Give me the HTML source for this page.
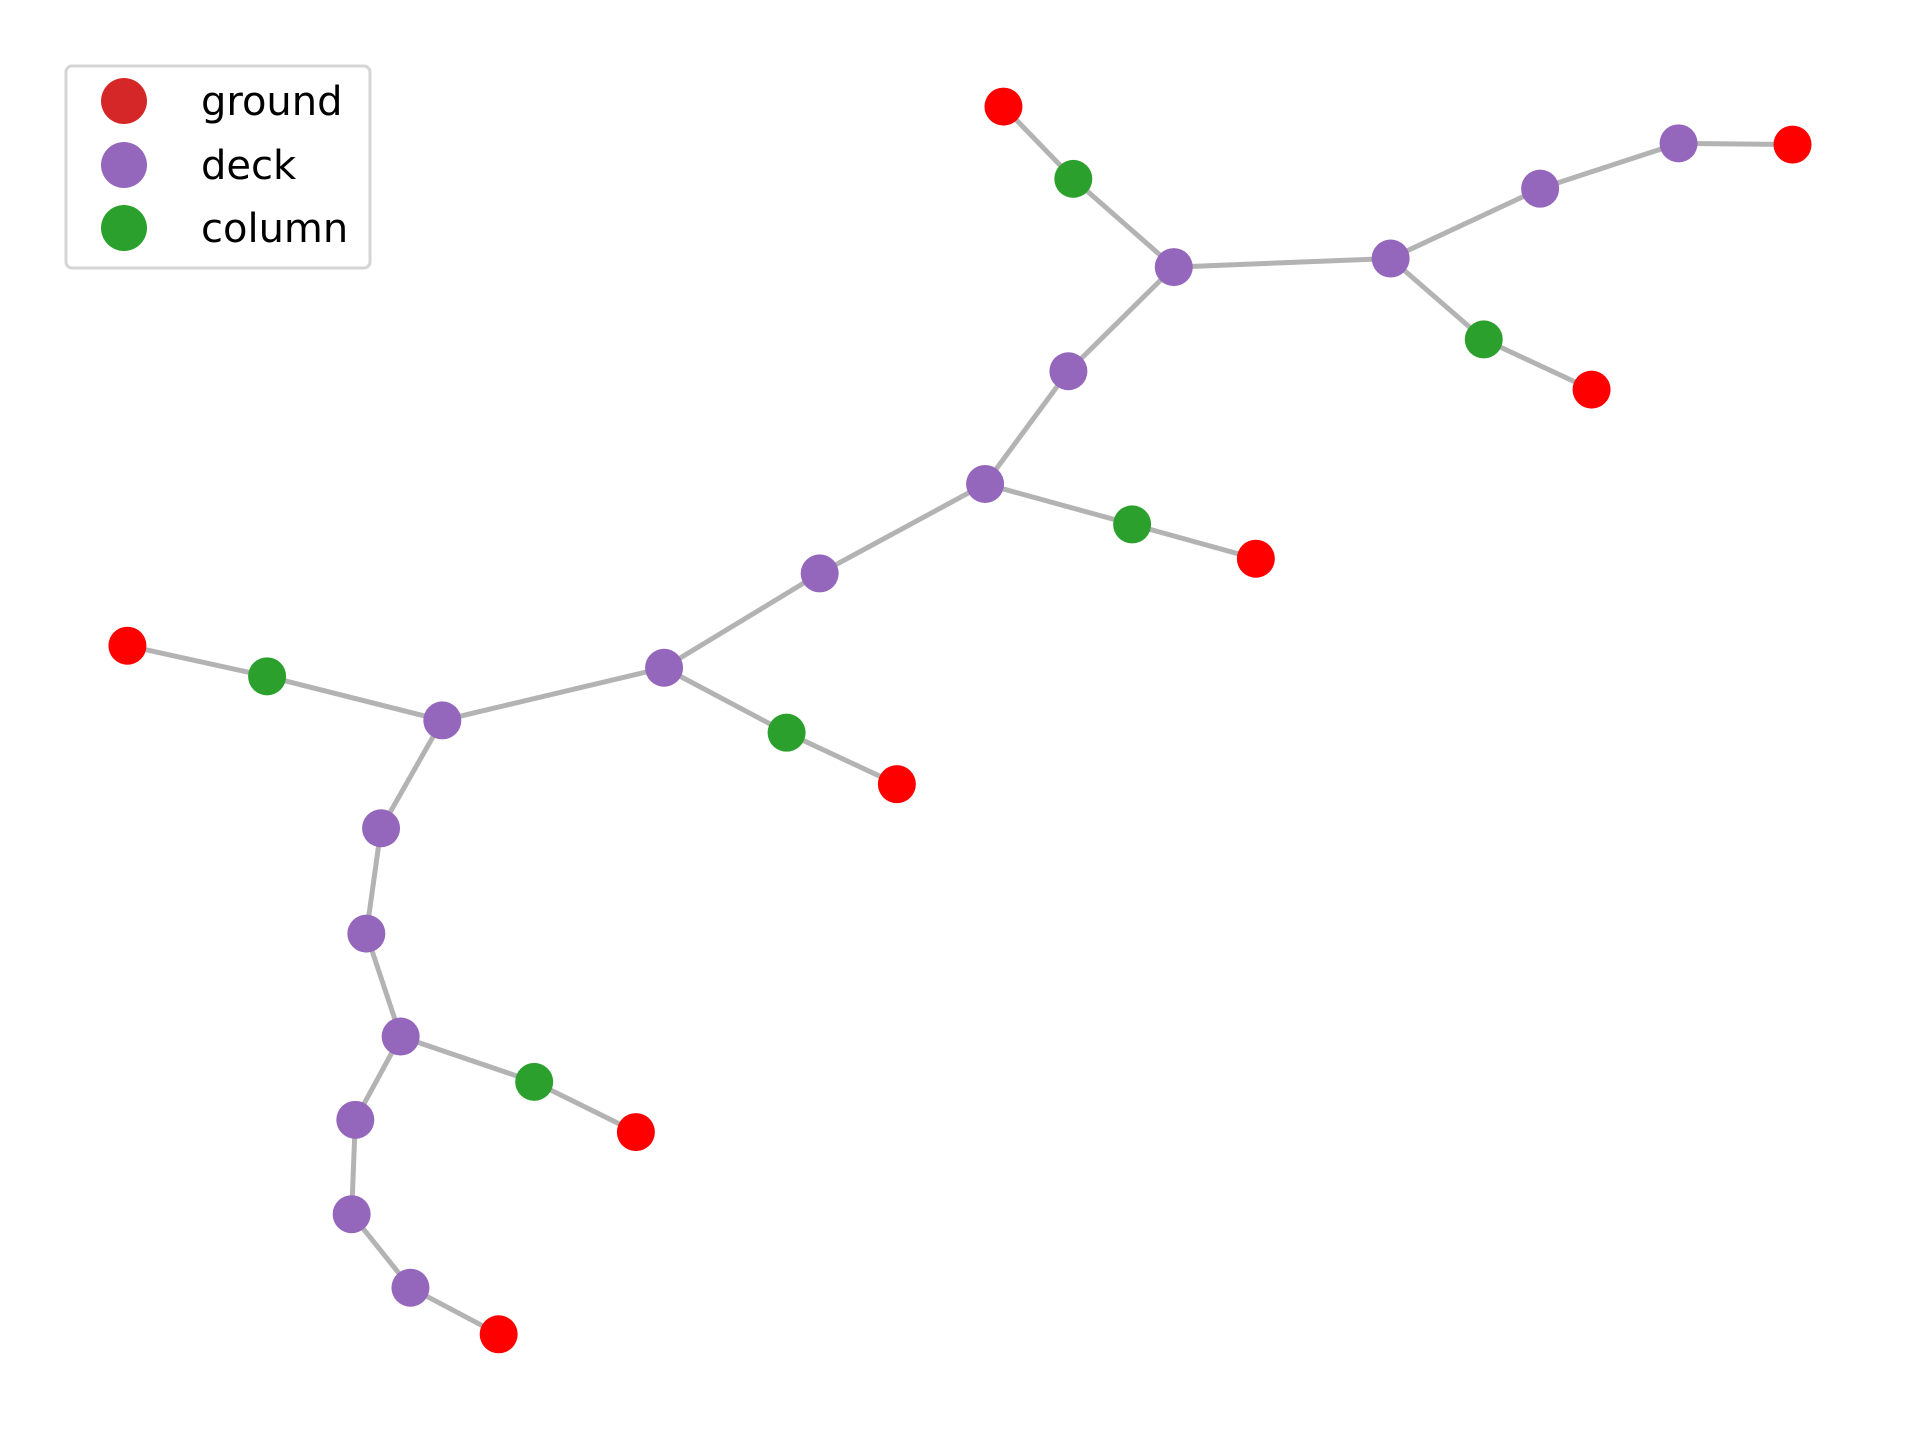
<!DOCTYPE html>
<html><head><meta charset="utf-8"><style>
html,body{margin:0;padding:0;background:#fff;}
svg{display:block;}
text{font-family:"DejaVu Sans","Liberation Sans",sans-serif;}
</style></head><body>
<svg id="chart" width="1920" height="1440" viewBox="0 0 1920 1440" xmlns="http://www.w3.org/2000/svg">
<g id="edges"></g>
<g id="nodes"></g>
<g id="legend">
<rect x="66" y="66" width="304" height="202" rx="6" fill="#fff" stroke="#d5d5d5" stroke-width="3"/>
<circle cx="124" cy="101" r="23" fill="#d62728"/>
<text x="201" y="115" font-size="40" fill="#000">ground</text>
<circle cx="124" cy="165" r="23" fill="#9467bd"/>
<text x="201" y="179" font-size="40" fill="#000">deck</text>
<circle cx="124" cy="228" r="23" fill="#2ca02c"/>
<text x="201" y="242" font-size="40" fill="#000">column</text>
</g>
</svg>
<script>
const nodeX = [819,1463,1299,1025,104,732,519,407, 958,1135,1257,1370,872,804,669,542,361,311,299,327,290,287,335, 876,1211,924,218,642,436];
const nodeY = [87,118,318,456,527,640,924,1089, 218,211,154,117,303,395,468,545,588,676,762,846,914,991,1051, 146,277,428,552,598,883];
const nodeType = ["ground","ground","ground","ground","ground","ground","ground","ground",
 "deck","deck","deck","deck","deck","deck","deck","deck","deck","deck","deck","deck","deck","deck","deck",
 "column","column","column","column","column","column"];
const edgeFrom = [0,23,8,9,10,11,9,24,8,12,13,25,13,14,15,27,15,16,26,16,17,18,19,28,19,20,21,22];
const edgeTo   = [23,8,9,10,11,1,24,2,12,13,25,3,14,15,27,5,16,26,4,17,18,19,28,6,20,21,22,7];
const colors = {ground:"#ff0000", deck:"#9467bd", column:"#2ca02c"};
const S = 1920/1552/1.0097;
function xScale(v){return v*S;}
function yScale(v){return v*S;}
const NS="http://www.w3.org/2000/svg";
const eg=document.getElementById('edges'), ng=document.getElementById('nodes');
for(let i=0;i<edgeFrom.length;i++){
  const a=edgeFrom[i], b=edgeTo[i];
  const l=document.createElementNS(NS,'line');
  
  
  l.setAttribute('x1',xScale(nodeX[a]));l.setAttribute('y1',yScale(nodeY[a]));
  l.setAttribute('x2',xScale(nodeX[b]));l.setAttribute('y2',yScale(nodeY[b]));
  l.setAttribute('stroke','#b3b3b3');l.setAttribute('stroke-width','5');
  eg.appendChild(l);
}
for(let i=0;i<nodeX.length;i++){
  const c=document.createElementNS(NS,'circle');
  
  
  c.setAttribute('cx',xScale(nodeX[i]));c.setAttribute('cy',yScale(nodeY[i]));
  c.setAttribute('r',19);c.setAttribute('fill',colors[nodeType[i]]);
  ng.appendChild(c);
}
</script>
</body></html>
